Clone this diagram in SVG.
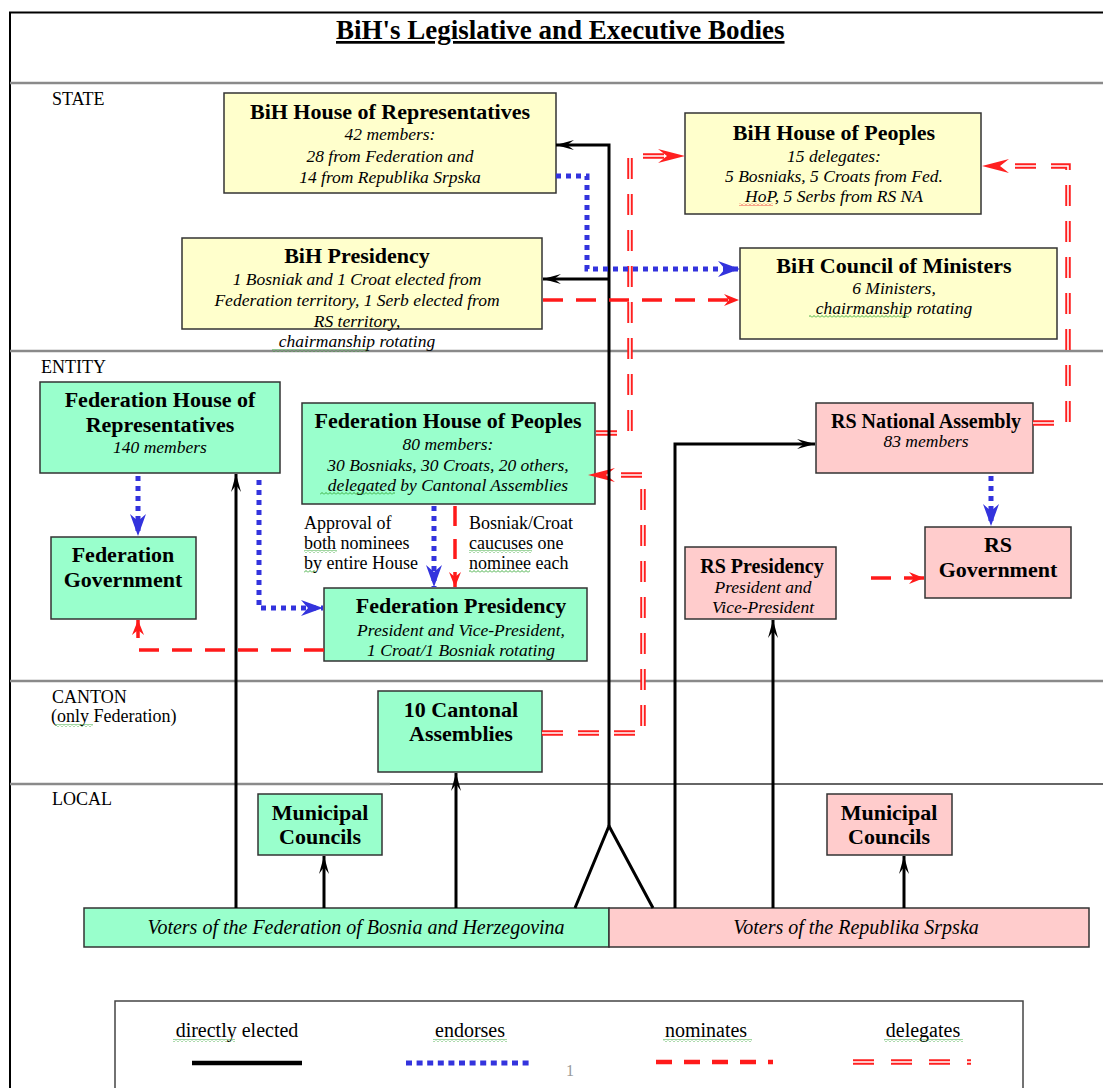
<svg xmlns="http://www.w3.org/2000/svg" width="1103" height="1088" viewBox="0 0 1103 1088">
<defs>
<style>
.box{stroke:#333;stroke-width:1.5}
.fy{fill:#ffffcc}.fg{fill:#99ffcc}.fp{fill:#ffcccc}
text{font-family:"Liberation Serif","Times New Roman",serif;fill:#000}
.t{font-weight:bold;font-size:22px;text-anchor:middle}
.ts{font-weight:bold;font-size:20px;text-anchor:middle}
.i{font-style:italic;font-size:17.5px;text-anchor:middle}
.l{font-size:18px}
.lg{font-size:20px;text-anchor:middle}
.sep{stroke:#8a8a8a;stroke-width:2.5}
.el{stroke:#000;stroke-width:3;fill:none}
.en{stroke:#3333dd;stroke-width:5;stroke-dasharray:5 5;fill:none}
.no{stroke:#ff1a1a;stroke-width:3.5;stroke-dasharray:20 13;fill:none}
.de{stroke:#ff2020;stroke-width:5.5;stroke-dasharray:21 15;fill:none}
.dw{stroke:#fff;stroke-width:1.6;stroke-dasharray:21 15;fill:none}
</style>
<marker id="ab" markerUnits="userSpaceOnUse" viewBox="0 0 18 10" markerWidth="18" markerHeight="10" refX="18" refY="5" orient="auto"><path d="M0,0 L18,5 L0,10 L7,5 z" fill="#000"/></marker>
<marker id="abl" markerUnits="userSpaceOnUse" viewBox="0 0 22 16" markerWidth="22" markerHeight="16" refX="22" refY="8" orient="auto"><path d="M0,0 L22,8 L0,16 L7,8 z" fill="#3333dd"/></marker>
<marker id="ar" markerUnits="userSpaceOnUse" viewBox="0 0 15 12" markerWidth="15" markerHeight="12" refX="15" refY="6" orient="auto"><path d="M0,0 L15,6 L0,12 L5,6 z" fill="#ff1a1a"/></marker>
<marker id="ad" markerUnits="userSpaceOnUse" viewBox="0 0 27 14" markerWidth="27" markerHeight="14" refX="9" refY="7" orient="auto"><path d="M0,0 L27,7 L0,14 L9,7 z" fill="#ff2020"/></marker>
<pattern id="wg" patternUnits="userSpaceOnUse" width="4" height="3"><path d="M0,2.5 L2,0.5 L4,2.5" stroke="#2fa52f" stroke-width="0.9" fill="none"/></pattern>
<pattern id="wr" patternUnits="userSpaceOnUse" width="4" height="3"><path d="M0,2.5 L2,0.5 L4,2.5" stroke="#e33" stroke-width="0.9" fill="none"/></pattern>
</defs>
<rect width="1103" height="1088" fill="#fff"/>
<!-- frame and separators -->
<g id="frame">
<line x1="9" y1="12.5" x2="1103" y2="12.5" stroke="#000" stroke-width="2"/>
<line x1="10" y1="12" x2="10" y2="1088" stroke="#000" stroke-width="2"/>
<line class="sep" x1="10" y1="83" x2="1103" y2="83"/>
<line class="sep" x1="10" y1="351" x2="1103" y2="351"/>
<line class="sep" x1="10" y1="681" x2="1103" y2="681"/>
<line class="sep" x1="10" y1="784" x2="390" y2="784"/>
<line x1="390" y1="784" x2="1103" y2="784" stroke="#333" stroke-width="1.5"/>
<text x="336" y="39" style="font-weight:bold;font-size:27px;text-decoration:underline">BiH's Legislative and Executive Bodies</text>
<text class="l" x="52" y="105">STATE</text>
<text class="l" x="41" y="373">ENTITY</text>
<text class="l" x="52" y="703">CANTON</text>
<text class="l" x="51" y="722">(only Federation)</text>
<text class="l" x="52" y="805">LOCAL</text>
<rect x="55" y="724" width="38" height="3" fill="url(#wg)"/>
</g>
<!-- nodes -->
<g id="bih-hor"><rect class="box fy" x="224" y="93" width="332" height="100"/>
<text class="t" x="390" y="119">BiH House of Representatives</text>
<text class="i" x="390" y="140">42 members:</text>
<text class="i" x="390" y="162">28 from Federation and</text>
<text class="i" x="390" y="183">14 from Republika Srpska</text></g>
<g id="bih-hop"><rect class="box fy" x="685" y="113" width="296" height="101"/>
<text class="t" x="834" y="140">BiH House of Peoples</text>
<text class="i" x="834" y="162">15 delegates:</text>
<text class="i" x="834" y="182">5 Bosniaks, 5 Croats from Fed.</text>
<text class="i" x="834" y="202">HoP, 5 Serbs from RS NA</text>
<rect x="739" y="203" width="34" height="3" fill="url(#wr)"/></g>
<g id="bih-pres"><rect class="box fy" x="182" y="238" width="360" height="91"/>
<text class="t" x="357" y="263">BiH Presidency</text>
<text class="i" x="357" y="285">1 Bosniak and 1 Croat elected from</text>
<text class="i" x="357" y="306">Federation territory, 1 Serb elected from</text>
<text class="i" x="357" y="327">RS territory,</text>
<text class="i" x="357" y="347">chairmanship rotating</text>
<rect x="272" y="349" width="96" height="3" fill="url(#wg)"/></g>
<g id="bih-com"><rect class="box fy" x="740" y="248" width="317" height="91"/>
<text class="t" x="894" y="273">BiH Council of Ministers</text>
<text class="i" x="894" y="294">6 Ministers,</text>
<text class="i" x="894" y="314">chairmanship rotating</text>
<rect x="809" y="315" width="100" height="3" fill="url(#wg)"/></g>
<g id="fed-hor"><rect class="box fg" x="40" y="382" width="240" height="91"/>
<text class="t" x="160" y="407">Federation House of</text>
<text class="t" x="160" y="432">Representatives</text>
<text class="i" x="160" y="453">140 members</text></g>
<g id="fed-hop"><rect class="box fg" x="302" y="403" width="293" height="101"/>
<text class="t" x="448" y="428">Federation House of Peoples</text>
<text class="i" x="448" y="450">80 members:</text>
<text class="i" x="448" y="471">30 Bosniaks, 30 Croats, 20 others,</text>
<text class="i" x="448" y="491">delegated by Cantonal Assemblies</text>
<rect x="320" y="492" width="75" height="3" fill="url(#wg)"/></g>
<g id="fed-gov"><rect class="box fg" x="51" y="537" width="145" height="82"/>
<text class="t" x="123" y="562">Federation</text>
<text class="t" x="123" y="587">Government</text></g>
<g id="fed-pres"><rect class="box fg" x="324" y="588" width="263" height="73"/>
<text class="t" x="461" y="613">Federation Presidency</text>
<text class="i" x="461" y="636">President and Vice-President,</text>
<text class="i" x="461" y="656">1 Croat/1 Bosniak rotating</text></g>
<g id="labels">
<text class="l" x="304" y="529">Approval of</text>
<text class="l" x="304" y="549">both nominees</text>
<text class="l" x="304" y="569">by entire House</text>
<text class="l" x="469" y="529">Bosniak/Croat</text>
<text class="l" x="469" y="549">caucuses one</text>
<text class="l" x="469" y="569">nominee each</text>
<rect x="304" y="550" width="33" height="3" fill="url(#wg)"/>
<rect x="304" y="570" width="12" height="3" fill="url(#wg)"/>
<rect x="469" y="550" width="63" height="3" fill="url(#wg)"/>
<rect x="469" y="570" width="61" height="3" fill="url(#wg)"/></g>
<g id="rs-na"><rect class="box fp" x="816" y="403" width="217" height="70"/>
<text class="ts" x="926" y="428">RS National Assembly</text>
<text class="i" x="926" y="447">83 members</text></g>
<g id="rs-gov"><rect class="box fp" x="925" y="527" width="146" height="71"/>
<text class="t" x="998" y="552">RS</text>
<text class="t" x="998" y="577">Government</text></g>
<g id="rs-pres"><rect class="box fp" x="685" y="547" width="151" height="72"/>
<text class="ts" x="762" y="573">RS Presidency</text>
<text class="i" x="763" y="593">President and</text>
<text class="i" x="763" y="613">Vice-President</text></g>
<g id="cantonal"><rect class="box fg" x="378" y="691" width="164" height="81"/>
<text class="t" x="461" y="717">10 Cantonal</text>
<text class="t" x="461" y="741">Assemblies</text></g>
<g id="mun-fed"><rect class="box fg" x="258" y="794" width="124" height="61"/>
<text class="t" x="320" y="820">Municipal</text>
<text class="t" x="320" y="844">Councils</text></g>
<g id="mun-rs"><rect class="box fp" x="827" y="794" width="125" height="61"/>
<text class="t" x="889" y="820">Municipal</text>
<text class="t" x="889" y="844">Councils</text></g>
<g id="voters-fed"><rect class="box fg" x="84" y="908" width="525" height="39"/>
<text x="356" y="934" style="font-style:italic;font-size:20px;text-anchor:middle">Voters of the Federation of Bosnia and Herzegovina</text></g>
<g id="voters-rs"><rect class="box fp" x="609" y="908" width="480" height="39"/>
<text x="856" y="934" style="font-style:italic;font-size:20px;text-anchor:middle">Voters of the Republika Srpska</text></g>
<!-- connectors -->
<g id="connectors">
<path class="de" d="M596,433 H630 V156 H667" marker-end="url(#ad)"/>
<path class="dw" d="M596,433 H630 V156 H667"/>
<path class="de" d="M1033,423 H1068 V166 H1000" marker-end="url(#ad)"/>
<path class="dw" d="M1033,423 H1068 V166 H1000"/>
<path class="de" d="M542,733 H643 V475 H606" marker-end="url(#ad)"/>
<path class="dw" d="M542,733 H643 V475 H606"/>
<path class="el" d="M653,908 L609,826 L575,908"/>
<path class="el" d="M609,826 V145 H556" marker-end="url(#ab)"/>
<path class="el" d="M609,279 H543" marker-end="url(#ab)"/>
<path class="el" d="M236,908 V474" marker-end="url(#ab)"/>
<path class="el" d="M324,908 V856" marker-end="url(#ab)"/>
<path class="el" d="M456,908 V773" marker-end="url(#ab)"/>
<path class="el" d="M675,908 V444 H815" marker-end="url(#ab)"/>
<path class="el" d="M773,908 V620" marker-end="url(#ab)"/>
<path class="el" d="M904,908 V856" marker-end="url(#ab)"/>
<path class="en" d="M556,176 H587 V269 H740" marker-end="url(#abl)"/>
<path class="en" d="M138,476 V536" marker-end="url(#abl)"/>
<path class="en" d="M259,480 V608 H323" marker-end="url(#abl)"/>
<path class="en" d="M434,506 V587" marker-end="url(#abl)"/>
<path class="en" d="M991,476 V526" marker-end="url(#abl)"/>
<path class="no" d="M543,300 H739" marker-end="url(#ar)"/>
<path class="no" d="M455,506 V587" marker-end="url(#ar)"/>
<path class="no" d="M324,650 H138 V620" marker-end="url(#ar)"/>
<path class="no" d="M871,578 H924" marker-end="url(#ar)"/>
</g>
<!-- legend -->
<g id="legend">
<rect x="115" y="1001" width="908" height="100" fill="none" stroke="#444" stroke-width="1.5"/>
<text class="lg" x="237" y="1037">directly elected</text>
<text class="lg" x="470" y="1037">endorses</text>
<text class="lg" x="706" y="1037">nominates</text>
<text class="lg" x="923" y="1037">delegates</text>
<rect x="173" y="1039" width="62" height="3" fill="url(#wg)"/>
<rect x="433" y="1039" width="74" height="3" fill="url(#wg)"/>
<rect x="663" y="1039" width="89" height="3" fill="url(#wg)"/>
<rect x="884" y="1039" width="79" height="3" fill="url(#wg)"/>
<line x1="192" y1="1063" x2="302" y2="1063" stroke="#000" stroke-width="4.5"/>
<line x1="406" y1="1063" x2="533" y2="1063" stroke="#3333dd" stroke-width="5" stroke-dasharray="6 4.6"/>
<line x1="656" y1="1062" x2="773" y2="1062" stroke="#ff1a1a" stroke-width="4.5" stroke-dasharray="16 12"/>
<line x1="853" y1="1062" x2="971" y2="1062" stroke="#ff2020" stroke-width="5.5" stroke-dasharray="21 17"/>
<line x1="853" y1="1062" x2="971" y2="1062" stroke="#fff" stroke-width="1.6" stroke-dasharray="21 17"/>
<text x="566" y="1076" style="font-size:16px;fill:#999">1</text>
</g>
</svg>
